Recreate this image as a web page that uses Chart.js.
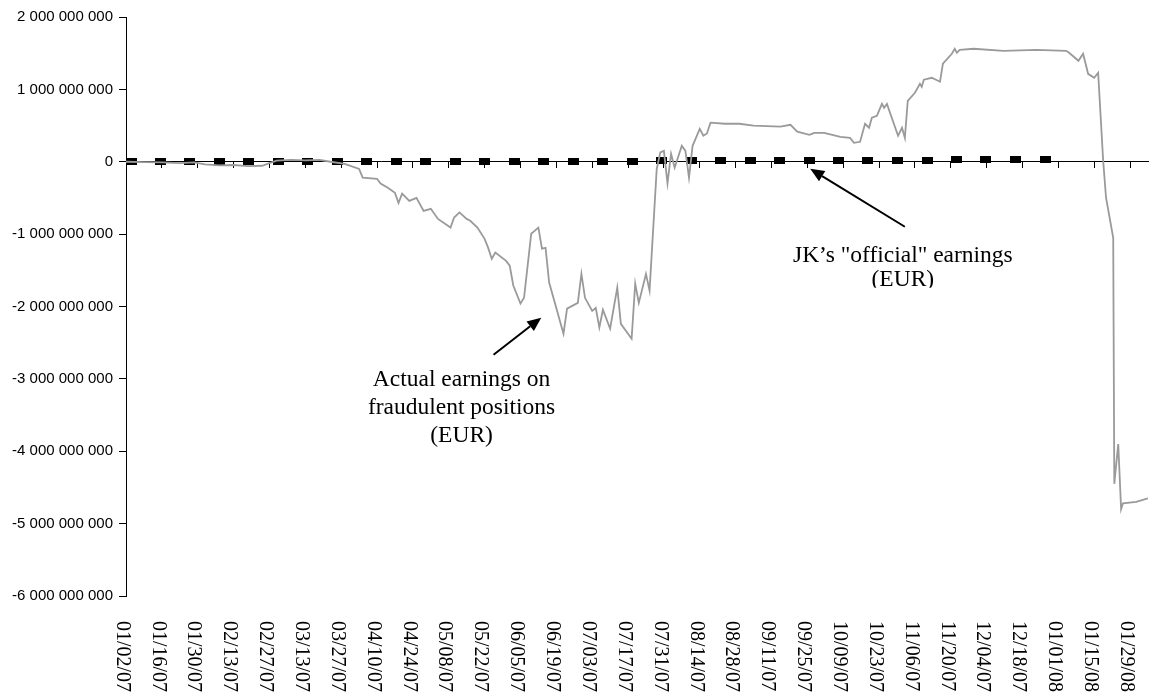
<!DOCTYPE html>
<html>
<head>
<meta charset="utf-8">
<script src="https://cdn.jsdelivr.net/npm/chart.js@4.4.1/dist/chart.umd.min.js"></script>
<style>
  html, body { margin: 0; padding: 0; background: #fff; }
  #wrap { width: 1154px; height: 700px; }
</style>
</head>
<body>
<div id="wrap"><canvas id="earningsChart" width="1154" height="700"></canvas></div>
<script>
// x = trading day since 01/02/07, one label every 10 days
const dateLabels = ['01/02/07', '01/16/07', '01/30/07', '02/13/07', '02/27/07', '03/13/07', '03/27/07',
  '04/10/07', '04/24/07', '05/08/07', '05/22/07', '06/05/07', '06/19/07', '07/03/07', '07/17/07',
  '07/31/07', '08/14/07', '08/28/07', '09/11/07', '09/25/07', '10/09/07', '10/23/07', '11/06/07',
  '11/20/07', '12/04/07', '12/18/07', '01/01/08', '01/15/08', '01/29/08'];

const yTicks = [2e9, 1e9, 0, -1e9, -2e9, -3e9, -4e9, -5e9, -6e9];

// Actual earnings on fraudulent positions (EUR)
const actualDays = [0, 5, 10, 15, 19, 22, 26, 30, 34, 38, 40, 42, 46, 50, 54, 57, 61, 65, 66, 70,
  71, 73, 75, 76, 77, 79, 81, 83, 85, 87, 90.5, 91.5, 93, 95, 96, 98, 100, 101, 102, 103,
  106, 107, 108, 110, 111, 113, 115, 116, 117, 118, 120, 121, 122, 123, 126, 127, 128, 130, 131, 132,
  133, 135, 137, 138, 141, 142, 143, 145, 146, 148, 149, 150, 151, 152, 153, 155, 156, 157, 158, 160,
  161, 162, 163, 167, 171, 175, 182.5, 185.3, 187.2, 190.6, 191.9, 194.7, 199.2, 201.9, 203, 204.7,
  206.1, 207.2, 208, 209.4, 210.8, 211.4, 212.2, 215.3, 216.4, 217.2, 218, 220, 221.4, 221.9, 222.5,
  224.7, 227, 227.8, 230.3, 231.1, 231.7, 232.5, 236.4, 244.7, 253.9, 262.2, 263, 265.6, 266.9, 268.3,
  270, 271.1, 272.5, 273.3, 275.3, 275.6, 276.7, 277.5, 278, 281.7, 285];
const actualValues = [0, -5e6, -10e6, -20e6, -10e6, -35e6, -50e6, -45e6, -60e6, -55e6, -20e6, 15e6, 25e6, 20e6, 25e6, 0, -30e6, -100e6, -220e6, -235e6,
  -300e6, -360e6, -430e6, -570e6, -440e6, -540e6, -500e6, -680e6, -650e6, -790e6, -910e6, -770e6, -700e6, -790e6, -815e6, -910e6, -1065e6, -1190e6, -1340e6, -1255e6,
  -1370e6, -1435e6, -1710e6, -1960e6, -1880e6, -995e6, -910e6, -1200e6, -1190e6, -1670e6, -2020e6, -2200e6, -2375e6, -2030e6, -1950e6, -1550e6, -1880e6, -2060e6, -2020e6, -2290e6,
  -2045e6, -2305e6, -1740e6, -2240e6, -2445e6, -1685e6, -1950e6, -1550e6, -1780e6, -100e6, 130e6, 150e6, -300e6, 110e6, -80e6, 220e6, 150e6, -220e6, 220e6, 455e6,
  360e6, 390e6, 540e6, 525e6, 525e6, 500e6, 485e6, 510e6, 415e6, 373e6, 400e6, 400e6, 345e6, 330e6, 262e6, 276e6,
  525e6, 470e6, 608e6, 635e6, 800e6, 746e6, 800e6, 360e6, 470e6, 330e6, 842e6, 953e6, 1077e6, 1036e6, 1133e6,
  1160e6, 1105e6, 1354e6, 1492e6, 1561e6, 1506e6, 1547e6, 1561e6, 1533e6, 1547e6, 1533e6, 1506e6, 1395e6, 1492e6, 1215e6,
  1160e6, 1229e6, 14e6, -497e6, -1050e6, -4450e6, -3900e6, -4800e6, -4720e6, -4700e6, -4650e6];

// JK's "official" earnings (EUR)
const officialDays = [1.4, 9.6, 17.8, 26.1, 34.3, 42.5, 50.7, 58.9, 67.2, 75.4, 83.6, 91.8, 100.1, 108.3, 116.5, 124.7,
  132.9, 141.2, 149.4, 157.6, 165.8, 174.1, 182.3, 190.5, 198.7, 206.9, 215.2, 223.4, 231.6, 239.8, 248.1, 256.3];
const officialValues = [0, 0, 0, 0, 0, 0, 0, 0, 0, 0, 5e6, 5e6, 5e6, 5e6, 5e6, 5e6,
  5e6, 5e6, 15e6, 15e6, 15e6, 15e6, 15e6, 15e6, 15e6, 15e6, 15e6, 15e6, 35e6, 35e6, 35e6, 35e6];

const notes = [
  { tail: [102.5, -2666e6], tip: [115.8, -2155e6], lines: ['Actual earnings on', 'fraudulent positions', '(EUR)'], dx: -32, dy: 25, gap: 28, clip: null },
  { tail: [217.2, -898e6], tip: [190.8, -97e6], lines: ['JK\u2019s "official" earnings', '(EUR)'], dx: -2, dy: 29, gap: 24, clip: 61 }
];

const toPoints = (xs, ys) => xs.map((x, i) => ({ x: x, y: ys[i] }));

function fmtNumber(v) {
  const s = Math.abs(v).toFixed(0).replace(/\B(?=(\d{3})+(?!\d))/g, ' ');
  return (v < 0 ? '-' : '') + s;
}

// small black box used as marker for the official series
const boxMarker = document.createElement('canvas');
boxMarker.width = 11;
boxMarker.height = 7;
const bctx = boxMarker.getContext('2d');
bctx.fillStyle = '#000';
bctx.fillRect(0, 0, 11, 7);

const extrasPlugin = {
  id: 'extras',
  afterDraw(chart) {
    const ctx = chart.ctx;
    const xs = chart.scales.x;
    const ys = chart.scales.y;

    // rotated date labels under the plot
    ctx.save();
    ctx.fillStyle = '#000';
    ctx.font = '20px "Liberation Serif", "Times New Roman", serif';
    ctx.textAlign = 'left';
    ctx.textBaseline = 'middle';
    dateLabels.forEach((lab, i) => {
      const px = xs.getPixelForValue(i * 10) - 4;
      ctx.save();
      ctx.translate(px, 621);
      ctx.rotate(Math.PI / 2);
      ctx.fillText(lab, 0, 0);
      ctx.restore();
    });
    ctx.restore();

    // arrows + captions
    notes.forEach(n => {
      const tx = xs.getPixelForValue(n.tail[0]), ty = ys.getPixelForValue(n.tail[1]);
      const hx = xs.getPixelForValue(n.tip[0]), hy = ys.getPixelForValue(n.tip[1]);
      const ang = Math.atan2(hy - ty, hx - tx);
      const len = 14, half = 6;
      const bx = hx - len * Math.cos(ang), by = hy - len * Math.sin(ang);
      ctx.save();
      ctx.strokeStyle = '#000';
      ctx.fillStyle = '#000';
      ctx.lineWidth = 2;
      ctx.beginPath();
      ctx.moveTo(tx, ty);
      ctx.lineTo(bx, by);
      ctx.stroke();
      ctx.beginPath();
      ctx.moveTo(hx, hy);
      ctx.lineTo(bx + half * Math.sin(ang), by - half * Math.cos(ang));
      ctx.lineTo(bx - half * Math.sin(ang), by + half * Math.cos(ang));
      ctx.closePath();
      ctx.fill();

      if (n.clip !== null) {
        ctx.beginPath();
        ctx.rect(0, 0, chart.width, ty + n.clip);
        ctx.clip();
      }
      ctx.font = '23.5px "Liberation Serif", "Times New Roman", serif';
      ctx.textAlign = 'center';
      ctx.textBaseline = 'middle';
      n.lines.forEach((line, i) => {
        ctx.fillText(line, tx + n.dx, ty + n.dy + i * n.gap);
      });
      ctx.restore();
    });
  }
};

const earningsChart = new Chart(document.getElementById('earningsChart'), {
  type: 'line',
  data: {
    datasets: [
      {
        label: 'Actual earnings on fraudulent positions (EUR)',
        data: toPoints(actualDays, actualValues),
        borderColor: '#9a9a9a',
        borderWidth: 1.8,
        pointRadius: 0,
        tension: 0
      },
      {
        label: 'JK\u2019s "official" earnings (EUR)',
        data: toPoints(officialDays, officialValues),
        showLine: false,
        pointStyle: boxMarker,
        pointRadius: 5,
        borderColor: '#000',
        backgroundColor: '#000'
      }
    ]
  },
  options: {
    responsive: false,
    animation: false,
    devicePixelRatio: 1,
    layout: { padding: { top: 17, right: 0, left: 0, bottom: 0 } },
    plugins: {
      legend: { display: false },
      tooltip: { enabled: false }
    },
    scales: {
      x: {
        type: 'linear',
        min: 0,
        max: 285,
        position: 'bottom',
        ticks: { display: false },
        grid: { display: false },
        border: { display: false },
        afterFit(s) { s.height = 104; }
      },
      x2: {
        type: 'linear',
        min: 0,
        max: 285,
        position: { y: 0 },
        ticks: { display: false, stepSize: 10, includeBounds: false },
        grid: { drawOnChartArea: false, drawTicks: true, tickLength: 6, color: '#000', lineWidth: 1 },
        border: { color: '#000', width: 1 }
      },
      y: {
        type: 'linear',
        min: -6e9,
        max: 2e9,
        afterBuildTicks(s) { s.ticks = yTicks.map(v => ({ value: v })); },
        ticks: {
          padding: 6,
          color: '#000',
          font: { family: '"Liberation Sans", Arial, sans-serif', size: 15 },
          callback: v => fmtNumber(v)
        },
        grid: { drawOnChartArea: false, drawTicks: true, tickLength: 7, color: '#000', lineWidth: 1 },
        border: { color: '#000', width: 1 },
        afterFit(s) { s.width = 126; }
      }
    }
  },
  plugins: [extrasPlugin]
});
</script>
</body>
</html>
